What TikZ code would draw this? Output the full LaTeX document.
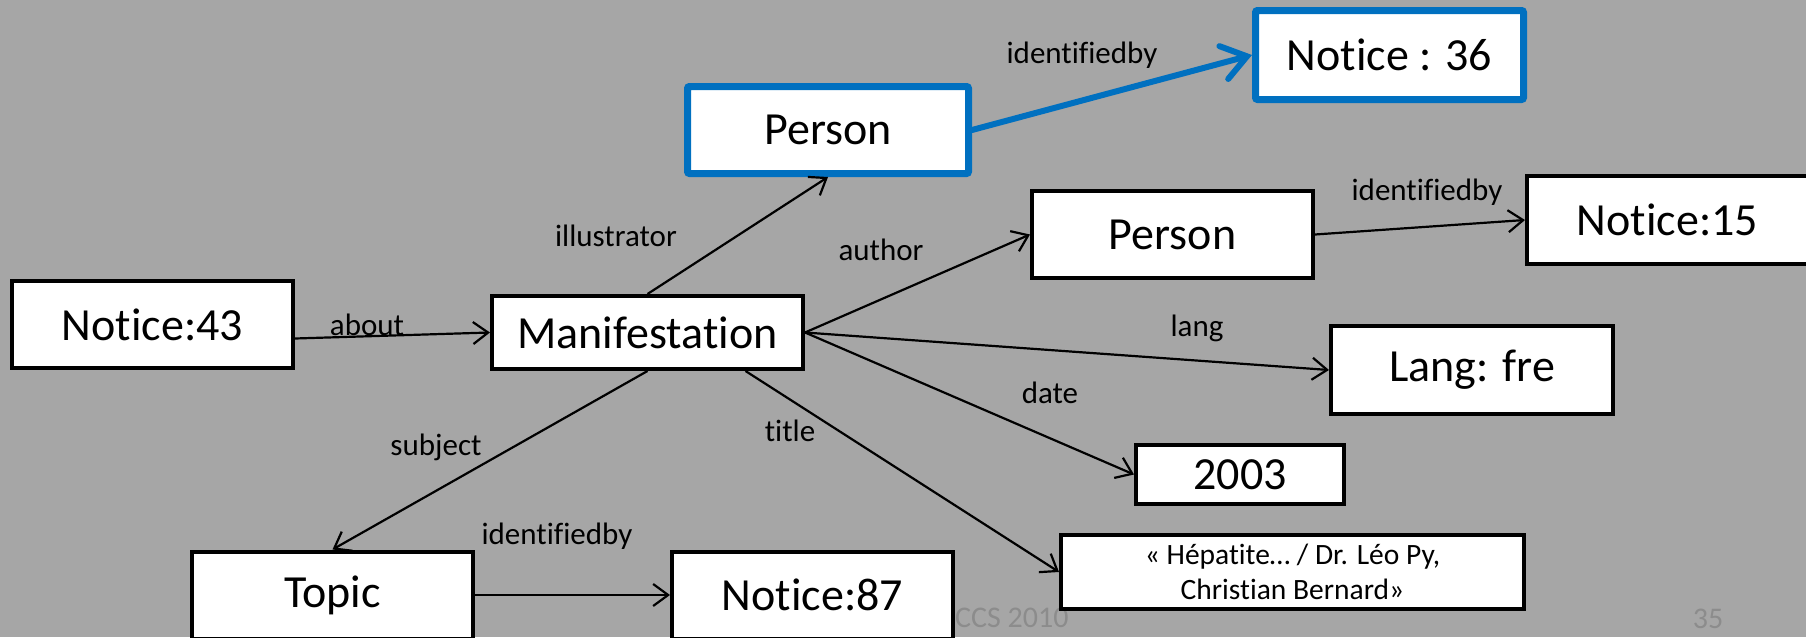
\documentclass[tikz,border=0pt]{standalone}
\usepackage{fontspec}
\setmainfont{Carlito}[Ligatures={NoCommon,TeX}]
\usetikzlibrary{arrows.meta,calc}
\definecolor{bg}{RGB}{166,166,166}
\definecolor{pptblue}{RGB}{0,112,192}
\definecolor{foot}{RGB}{140,140,140}
\tikzset{
  box/.style={draw=black, line width=4pt, fill=white, inner sep=0pt,
    font=\fontsize{46}{55}\selectfont, minimum width=281pt, minimum height=87pt},
  bluebox/.style={box, draw=pptblue, line width=7pt, rounded corners=2pt},
  lbl/.style={font=\fontsize{31}{36}\selectfont, inner sep=0pt},
  foottxt/.style={font=\fontsize{30}{36}\selectfont, text=foot, inner sep=0pt},
  edge/.style={line width=2.2pt, -{Straight Barb[length=15pt,width=22pt]}},
  bedge/.style={line width=6pt, draw=pptblue, line cap=round,
    -{Straight Barb[length=24pt,width=34pt,line cap=round]}}
}
\begin{document}
\begin{tikzpicture}[x=1pt,y=-1pt]
\useasboundingbox (0,0) rectangle (1806,637);
\fill[bg] (0,0) rectangle (1806,637);
% footer
\node[foottxt, anchor=base west] (foot1) at (955,627) {CCS 2010};
\node[foottxt, anchor=base] (foot2) at (1708,628) {35};
% boxes
\node[box] (n43) at (152.5,324.5) {Notice:43};
\node[box, minimum width=311pt, minimum height=73pt] (man) at (647.5,332.5) {Manifestation};
\node[bluebox] (pb) at (828,130) {Person};
\node[bluebox, minimum width=268pt, minimum height=89pt] (n36) at (1389.5,55) {Notice : 36};
\node[box] (p2) at (1172.5,234.5) {Person};
\node[box, minimum height=88pt] (n15) at (1667.5,220) {Notice:15};
\node[box, minimum width=282pt, minimum height=88pt] (lang) at (1472,370) {Lang: fre};
\node[box, minimum width=208pt, minimum height=59pt] (y2003) at (1240,474.5) {2003};
\node[box, minimum width=463pt, minimum height=74pt, align=center,
  font=\fontsize{29.5}{35}\selectfont] (hep) at (1292.5,572) {« Hépatite… / Dr. Léo Py,\\Christian Bernard»};
\node[box] (topic) at (332.5,595) {Topic};
\node[box] (n87) at (812.5,595) {Notice:87};
% edges
\draw[edge] ($(n43.east)+(0,14)$) -- (man.west);
\draw[edge] (man.north) -- (pb.south);
\draw[bedge] (pb.east) -- (n36.west);
\draw[edge] (man.east) -- (p2.west);
\draw[edge] (p2.east) -- (n15.west);
\draw[edge] (man.east) -- (lang.west);
\draw[edge] (man.east) -- (y2003.west);
\draw[edge] ($(man.south)+(98,0)$) -- (hep.west);
\draw[edge] (man.south) -- (topic.north);
\draw[edge] (topic.east) -- (n87.west);
% labels
\node[lbl] (l1) at (367,325) {about};
\node[lbl] (l2) at (616,236) {illustrator};
\node[lbl] (l3) at (881,250) {author};
\node[lbl] (l4) at (1082,55) {identifiedby};
\node[lbl] (l5) at (1427,192) {identifiedby};
\node[lbl] (l6) at (1197,328) {lang};
\node[lbl] (l7) at (1050,393) {date};
\node[lbl] (l8) at (790,431) {title};
\node[lbl] (l9) at (436,447) {subject};
\node[lbl] (l10) at (557,536) {identifiedby};
\end{tikzpicture}
\end{document}
